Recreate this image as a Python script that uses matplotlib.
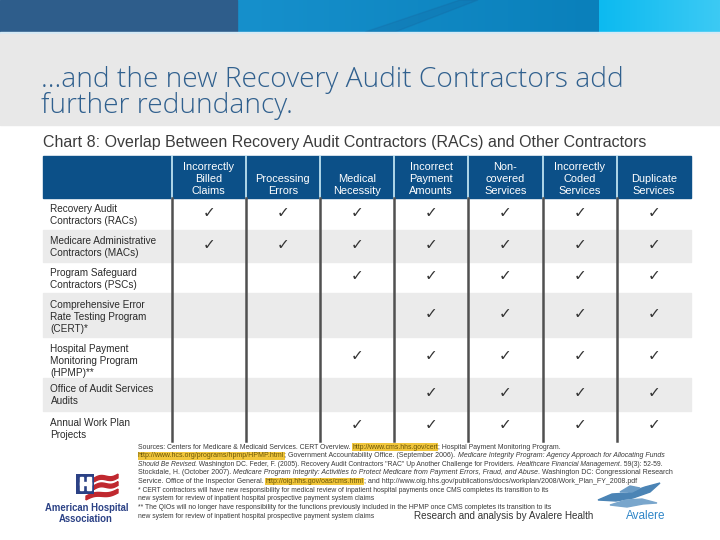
import numpy as np
import matplotlib
matplotlib.use("Agg")
import matplotlib.pyplot as plt
from matplotlib.patches import Rectangle, Polygon
from matplotlib.colors import to_rgb

plt.rcParams['font.family'] = ['Liberation Sans', 'DejaVu Sans']

# ---------------- data ----------------
title_lines = ["...and the new Recovery Audit Contractors add", "further redundancy."]
chart_title = "Chart 8: Overlap Between Recovery Audit Contractors (RACs) and Other Contractors"

error_types = ["Incorrectly\nBilled\nClaims", "Processing\nErrors", "Medical\nNecessity",
               "Incorrect\nPayment\nAmounts", "Non-\ncovered\nServices",
               "Incorrectly\nCoded\nServices", "Duplicate\nServices"]

contractors = ["Recovery Audit\nContractors (RACs)",
               "Medicare Administrative\nContractors (MACs)",
               "Program Safeguard\nContractors (PSCs)",
               "Comprehensive Error\nRate Testing Program\n(CERT)*",
               "Hospital Payment\nMonitoring Program\n(HPMP)**",
               "Office of Audit Services\nAudits",
               "Annual Work Plan\nProjects"]

coverage = [
    [1, 1, 1, 1, 1, 1, 1],
    [1, 1, 1, 1, 1, 1, 1],
    [0, 0, 1, 1, 1, 1, 1],
    [0, 0, 0, 1, 1, 1, 1],
    [0, 0, 1, 1, 1, 1, 1],
    [0, 0, 0, 1, 1, 1, 1],
    [0, 0, 1, 1, 1, 1, 1],
]

footnotes = [
    [("Sources: Centers for Medicare & Medicaid Services. CERT Overview. ", "n"),
     ("http://www.cms.hhs.gov/cert", "link"),
     ("; Hospital Payment Monitoring Program.", "n")],
    [("http://www.hcs.org/programs/hpmp/HPMP.html", "link"),
     ("; Government Accountability Office. (September 2006). ", "n"),
     ("Medicare Integrity Program: Agency Approach for Allocating Funds", "i")],
    [("Should Be Revised", "i"),
     (". Washington DC. Feder, F. (2005). Recovery Audit Contractors \"RAC\" Up Another Challenge for Providers. ", "n"),
     ("Healthcare Financial Management", "i"),
     (". 59(3): 52-59.", "n")],
    [("Stockdale, H. (October 2007). ", "n"),
     ("Medicare Program Integrity: Activities to Protect Medicare from Payment Errors, Fraud, and Abuse", "i"),
     (". Washington DC: Congressional Research", "n")],
    [("Service. Office of the Inspector General. ", "n"),
     ("http://oig.hhs.gov/oas/cms.html", "link"),
     ("; and http://www.oig.hhs.gov/publications/docs/workplan/2008/Work_Plan_FY_2008.pdf", "n")],
    [("* CERT contractors will have new responsibility for medical review of inpatient hospital payments once CMS completes its transition to its", "n")],
    [("new system for review of inpatient hospital prospective payment system claims", "n")],
    [("** The QIOs will no longer have responsibility for the functions previously included in the HPMP once CMS completes its transition to its", "n")],
    [("new system for review of inpatient hospital prospective payment system claims", "n")],
]
footnote_ends = [568, 667, 674, 675, 645, 557, 380, 556, 380]
credit = "Research and analysis by Avalere Health"

# ---------------- figure ----------------
W, H = 720, 540
fig = plt.figure(figsize=(7.2, 5.4), dpi=100)
ax = fig.add_axes([0, 0, 1, 1])
ax.axis('off')
renderer = fig.canvas.get_renderer()


def width_px(t):
    return t.get_window_extent(renderer).width


def fit(t, target):
    t.set_fontsize(t.get_fontsize() * target / width_px(t))
    return t


def hgrad(x0, x1, y0, y1, c0, c1, n=64):
    a, b = np.array(to_rgb(c0)), np.array(to_rgb(c1))
    g = np.linspace(0, 1, n)[None, :, None]
    img = a + (b - a) * g
    ax.imshow(img, extent=(x0, x1, y1, y0), aspect='auto', interpolation='bilinear', zorder=0)


# banner
ax.add_patch(Rectangle((0, 0), 236.5, 32, color='#2e5d8b', zorder=1))
hgrad(236.5, 599, 0, 32, '#1690cc', '#0a80bb')
ax.add_patch(Polygon([(365, 32), (395, 32), (478, 0), (460, 0)], closed=True,
                     color='#1b4f86', alpha=0.15, zorder=1))
hgrad(599, 720, 0, 32, '#0cbaf0', '#3ccaf4')
ax.add_patch(Rectangle((0, 32), 720, 1.6, color='#d5eaf6', zorder=1))
ax.add_patch(Rectangle((0, 33.6), 720, 91.4, color='#e8e8e8', zorder=1))

# title
tfam = ['Open Sans', 'Liberation Sans', 'DejaVu Sans']
t1 = ax.text(41, 87, title_lines[0], va='baseline', ha='left', fontsize=20, color='#30608e',
             family=tfam, weight='light', zorder=3)
fit(t1, 584)
ax.text(41, 113, title_lines[1], va='baseline', ha='left', fontsize=t1.get_fontsize(),
        color='#30608e', family=tfam, weight='light', zorder=3)

st = ax.text(43, 142, chart_title, va='center', ha='left', fontsize=11, color='#3c3c3c', zorder=3)
fit(st, 604)

# table geometry
left, right = 43, 691
col_edges = [171.5 + 74.2 * i for i in range(8)]
head_top, head_bot = 156, 198
row_edges = [198, 230, 262, 293, 337, 378, 411, 442]

ax.add_patch(Rectangle((left, head_top), right - left, head_bot - head_top, color='#0c5088', zorder=1))
for i in range(1, len(contractors), 2):
    ax.add_patch(Rectangle((left, row_edges[i]), right - left, row_edges[i + 1] - row_edges[i],
                           color='#ebebeb', zorder=1))
for x in col_edges[:-1]:
    ax.plot([x, x], [head_top, head_bot], color='#cdeefa', lw=1.2, zorder=2)
    ax.plot([x, x], [head_bot, row_edges[-1] - 1], color='#505050', lw=1.8, zorder=2)

# header labels
probe = ax.text(0, -50, "Incorrectly", fontsize=8)
fit(probe, 51)
fs_head = probe.get_fontsize()
probe.remove()
for j, lab in enumerate(error_types):
    cx = (col_edges[j] + col_edges[j + 1]) / 2
    lines = lab.split("\n")
    n = len(lines)
    for k, ln in enumerate(lines):
        ax.text(cx, 190.7 - 12 * (n - 1 - k), ln, ha='center', va='center',
                fontsize=fs_head, color='white', zorder=3)

# row labels
probe = ax.text(0, -50, "Medicare Administrative", fontsize=8)
fit(probe, 107)
fs_row = probe.get_fontsize()
probe.remove()
for i, lab in enumerate(contractors):
    top = row_edges[i]
    for k, ln in enumerate(lab.split("\n")):
        ax.text(50.5, top + 11.5 + 12 * k, ln, ha='left', va='center',
                fontsize=fs_row, color='#2b2b2b', zorder=3)

# checks
for i, row in enumerate(coverage):
    cy = (row_edges[i] + row_edges[i + 1]) / 2 - 1.5
    for j, v in enumerate(row):
        if v:
            cx = (col_edges[j] + col_edges[j + 1]) / 2
            ax.text(cx, cy, "\u2713", family='DejaVu Sans', fontsize=11, ha='center',
                    va='center', color='#333333', zorder=3)

# footnotes
fx0 = 138
for i, segs in enumerate(footnotes):
    yc = 447.5 + 8.6 * i
    objs = []
    prev = None
    for text, kind in segs:
        kw = dict(fontsize=5, color='#3a3a3a', va='bottom', ha='left', zorder=3)
        if kind == 'i':
            kw['style'] = 'italic'
        if kind == 'link':
            kw['color'] = '#6a5608'
            kw['bbox'] = dict(facecolor='#f1c63c', edgecolor='none', pad=0.2)
        if prev is None:
            t = ax.text(fx0, yc + 3.2, text, **kw)
        else:
            t = ax.annotate(text, xy=(1, 0), xycoords=prev, **kw)
        objs.append(t)
        prev = t
    tot = sum(width_px(o) for o in objs)
    scale = (footnote_ends[i] - fx0) / tot
    for o in objs:
        o.set_fontsize(5 * scale)

cr = ax.text(414, 516, credit, ha='left', va='center', fontsize=9, color='#333333', zorder=3)
fit(cr, 181)

# AHA logo
navy = '#2b4185'
ax.add_patch(Rectangle((76, 473.5), 18, 20, facecolor=navy, edgecolor='none', zorder=4))
for r in [(79.5, 477, 3.4, 13), (87.1, 477, 3.4, 13), (79.5, 482.2, 11, 2.8)]:
    ax.add_patch(Rectangle(r[:2], r[2], r[3], color='white', zorder=5))
stripe_x0 = [94, 94, 86]
for k in range(3):
    xs = np.linspace(stripe_x0[k], 118, 40)
    u = (xs - stripe_x0[k]) / (118 - stripe_x0[k])
    yc = 480 + 7.5 * k - 4 * u - 1.5 * np.sin(u * 2 * np.pi) + (3 * (1 - u) if k == 2 else 0)
    poly = np.concatenate([np.c_[xs, yc - 1.9], np.c_[xs[::-1], yc[::-1] + 1.9]])
    ax.add_patch(Polygon(poly, closed=True, color='#c0282f', zorder=3))
a1 = ax.text(87, 508, "American Hospital", ha='center', va='center', fontsize=7, color=navy,
             weight='bold', zorder=3)
fit(a1, 84)
ax.text(86, 518.5, "Association", ha='center', va='center', fontsize=a1.get_fontsize(), color=navy,
        weight='bold', zorder=3)

# Avalere logo
ax.add_patch(Polygon([(598, 500), (612, 494), (628, 493), (645, 487), (660, 483), (650, 492),
                      (633, 498), (616, 501)], closed=True, color='#4b84b5', zorder=3))
ax.add_patch(Polygon([(610, 505), (626, 500), (642, 499), (657, 503), (643, 504), (627, 507)],
                     closed=True, color='#79a6cc', zorder=3))
ax.add_patch(Polygon([(620, 492), (630, 486), (640, 488), (632, 492)], closed=True,
                     color='#6b9cc6', zorder=3))
av = ax.text(646, 516, "Avalere", ha='center', va='center', fontsize=10, color='#2f86c8', zorder=3)
fit(av, 40)

ax.set_xlim(0, W)
ax.set_ylim(H, 0)
fig.savefig('out.png', dpi=100)
